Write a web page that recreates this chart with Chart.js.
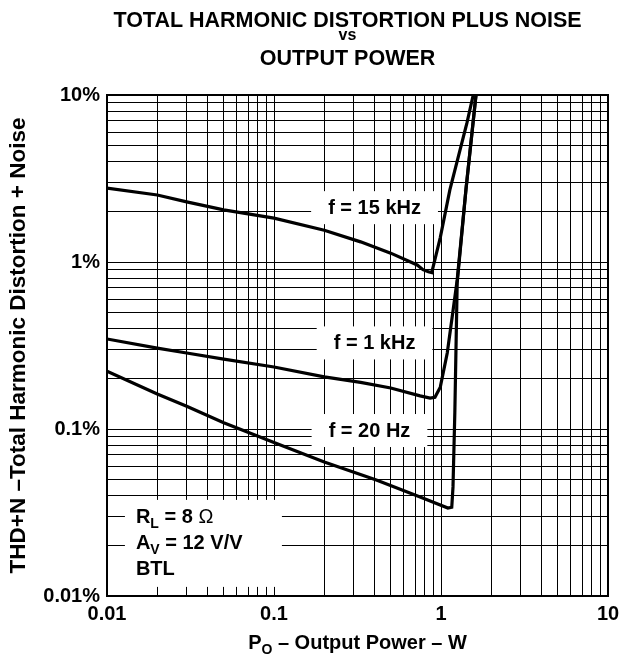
<!DOCTYPE html>
<html>
<head>
<meta charset="utf-8">
<script src="https://cdn.jsdelivr.net/npm/chart.js@4.4.1/dist/chart.umd.min.js"></script>
<style>
  html, body { margin: 0; padding: 0; background: #fff; }
</style>
</head>
<body>
<canvas id="thdChart" width="629" height="658"></canvas>
<script>
  // Values: output power in W, THD+N in %
  const power20Hz = [0.01, 0.02, 0.03, 0.05, 0.1, 0.2, 0.41, 0.75, 1.1, 1.16, 1.18, 1.21, 1.25, 1.41, 1.62]
  const thd20Hz = [0.222, 0.162, 0.137, 0.109, 0.083, 0.0634, 0.0495, 0.0392, 0.0336, 0.034, 0.045, 0.125, 0.75, 2.7, 10]

  const power1kHz = [0.01, 0.02, 0.03, 0.05, 0.1, 0.2, 0.33, 0.5, 0.75, 0.86, 0.92, 0.99, 1.09, 1.16, 1.25, 1.41, 1.62]
  const thd1kHz = [0.346, 0.305, 0.285, 0.262, 0.235, 0.205, 0.19, 0.176, 0.158, 0.153, 0.155, 0.178, 0.285, 0.45, 0.78, 2.7, 10]

  const power15kHz = [0.01, 0.02, 0.03, 0.05, 0.1, 0.2, 0.33, 0.5, 0.72, 0.78, 0.84, 0.88, 0.99, 1.13, 1.43, 1.56]
  const thd15kHz = [2.77, 2.52, 2.29, 2.05, 1.83, 1.55, 1.32, 1.13, 0.96, 0.9, 0.875, 0.865, 1.4, 2.7, 6.8, 10]

  const xTickValues = [0.01, 0.1, 1, 10]
  const xTickLabels = ['0.01', '0.1', '1', '10']
  const yTickValues = [0.01, 0.1, 1, 10]
  const yTickLabels = ['0.01%', '0.1%', '1%', '10%']

  const curveLabels = ['f = 20 Hz', 'f = 1 kHz', 'f = 15 kHz']
  const labelPower = [0.373, 0.40, 0.40]
  const labelThd = [0.0986, 0.33, 2.13]

  const FONT = '"Liberation Sans", Arial, sans-serif'
  Chart.defaults.font.family = FONT
  Chart.defaults.color = '#000'

  // grid lines at 1..9 of every decade
  const gridValues = []
  for (let e = -2; e <= 1; e++) {
    for (let m = 1; m <= 9; m++) {
      const v = +(m * Math.pow(10, e)).toPrecision(3)
      if (v <= 10) gridValues.push(v)
    }
  }

  const pickLabel = (values, labels) => (value) => {
    const i = values.findIndex(t => Math.abs(t - value) / t < 1e-6)
    return i < 0 ? '' : labels[i]
  }

  const toPoints = (xs, ys) => xs.map((x, i) => ({ x, y: ys[i] }))

  function setPartFont(ctx, kind) {
    if (kind === 'sub') ctx.font = 'bold 14px ' + FONT
    else if (kind === 'plain') ctx.font = '20px ' + FONT
    else ctx.font = 'bold 20px ' + FONT
  }

  // draws a run of text pieces, some as subscripts
  function drawRich(ctx, parts, x, y) {
    let cx = x
    parts.forEach(([text, kind]) => {
      setPartFont(ctx, kind)
      ctx.fillText(text, cx, kind === 'sub' ? y + 5 : y)
      cx += ctx.measureText(text).width
    })
  }
  function richWidth(ctx, parts) {
    let w = 0
    parts.forEach(([text, kind]) => {
      setPartFont(ctx, kind)
      w += ctx.measureText(text).width
    })
    return w
  }

  const notes = [
    [['R'], ['L', 'sub'], [' = 8 '], ['\u03A9', 'plain']],
    [['A'], ['V', 'sub'], [' = 12 V/V']],
    [['BTL']]
  ]
  const notePower = 0.0149
  const noteThd = 0.0274

  const annotations = {
    id: 'annotations',
    beforeDatasetsDraw(chart) {
      const { ctx, scales: { x, y } } = chart
      ctx.save()
      ctx.textAlign = 'left'
      ctx.textBaseline = 'alphabetic'
      ctx.font = 'bold 20px ' + FONT
      curveLabels.forEach((text, i) => {
        const cx = x.getPixelForValue(labelPower[i])
        const cy = y.getPixelForValue(labelThd[i])
        const w = ctx.measureText(text).width
        ctx.fillStyle = '#fff'
        ctx.fillRect(cx - w / 2 - 17, cy - 16, w + 34, 33)
        ctx.fillStyle = '#000'
        ctx.fillText(text, cx - w / 2, cy + 7)
      })

      // test conditions box
      const nx = x.getPixelForValue(notePower)
      const ny = y.getPixelForValue(noteThd)
      ctx.fillStyle = '#fff'
      ctx.fillRect(nx - 11, ny - 23, 157, 87)
      ctx.fillStyle = '#000'
      notes.forEach((parts, i) => drawRich(ctx, parts, nx, ny + i * 26))
      ctx.restore()
    },
    afterDatasetsDraw(chart) {
      const { ctx, chartArea: a } = chart
      ctx.save()
      ctx.strokeStyle = '#000'
      ctx.lineWidth = 2
      ctx.strokeRect(a.left, a.top, a.right - a.left, a.bottom - a.top)
      ctx.restore()
    },
    afterDraw(chart) {
      const { ctx, chartArea: a, scales: { x } } = chart
      ctx.save()
      ctx.fillStyle = '#000'
      ctx.textAlign = 'center'
      ctx.textBaseline = 'alphabetic'
      const tx = (a.left + a.right) / 2 - 10
      ctx.font = 'bold 21.5px ' + FONT
      ctx.fillText('TOTAL HARMONIC DISTORTION PLUS NOISE', tx, 27)
      ctx.font = 'bold 16px ' + FONT
      ctx.fillText('vs', tx, 40)
      ctx.font = 'bold 21.5px ' + FONT
      ctx.fillText('OUTPUT POWER', tx, 65)

      // x axis title with subscript
      ctx.textAlign = 'left'
      const xTitle = [['P'], ['O', 'sub'], [' \u2013 Output Power \u2013 W']]
      const w = richWidth(ctx, xTitle)
      drawRich(ctx, xTitle, (a.left + a.right) / 2 - w / 2, x.bottom - 9)
      ctx.restore()
    }
  }

  const ctx = document.getElementById('thdChart')
  // eslint-disable-next-line no-unused-vars
  const thdChart = new Chart(ctx, {
    type: 'line',
    data: {
      datasets: [
        { label: 'f = 20 Hz', data: toPoints(power20Hz, thd20Hz) },
        { label: 'f = 1 kHz', data: toPoints(power1kHz, thd1kHz) },
        { label: 'f = 15 kHz', data: toPoints(power15kHz, thd15kHz) }
      ].map(ds => Object.assign(ds, {
        borderColor: '#000',
        borderWidth: 3.2,
        pointRadius: 0,
        tension: 0,
        fill: false
      }))
    },
    options: {
      responsive: false,
      animation: false,
      devicePixelRatio: 1,
      layout: { padding: { top: 95, right: 21, left: 0, bottom: 0 } },
      plugins: {
        legend: { display: false },
        tooltip: { enabled: false }
      },
      scales: {
        x: {
          type: 'logarithmic',
          min: 0.01,
          max: 10,
          afterBuildTicks: s => { s.ticks = gridValues.map(v => ({ value: v })) },
          afterFit: s => { s.height = 62 },
          grid: { color: '#000', lineWidth: 1, drawTicks: false },
          border: { color: '#000', width: 2 },
          ticks: {
            autoSkip: false,
            maxRotation: 0,
            padding: 6,
            font: { size: 20, weight: 'bold' },
            callback: pickLabel(xTickValues, xTickLabels)
          }
        },
        y: {
          type: 'logarithmic',
          min: 0.01,
          max: 10,
          afterBuildTicks: s => { s.ticks = gridValues.map(v => ({ value: v })) },
          afterFit: s => { s.width = 107 },
          grid: { color: '#000', lineWidth: 1, drawTicks: false },
          border: { color: '#000', width: 2 },
          ticks: {
            autoSkip: false,
            padding: 7,
            font: { size: 20, weight: 'bold' },
            callback: pickLabel(yTickValues, yTickLabels)
          },
          title: {
            display: true,
            text: 'THD+N \u2013Total Harmonic Distortion + Noise',
            font: { size: 22.5, weight: 'bold' },
            padding: { top: 5, bottom: 0 }
          }
        }
      }
    },
    plugins: [annotations]
  })
</script>
</body>
</html>
